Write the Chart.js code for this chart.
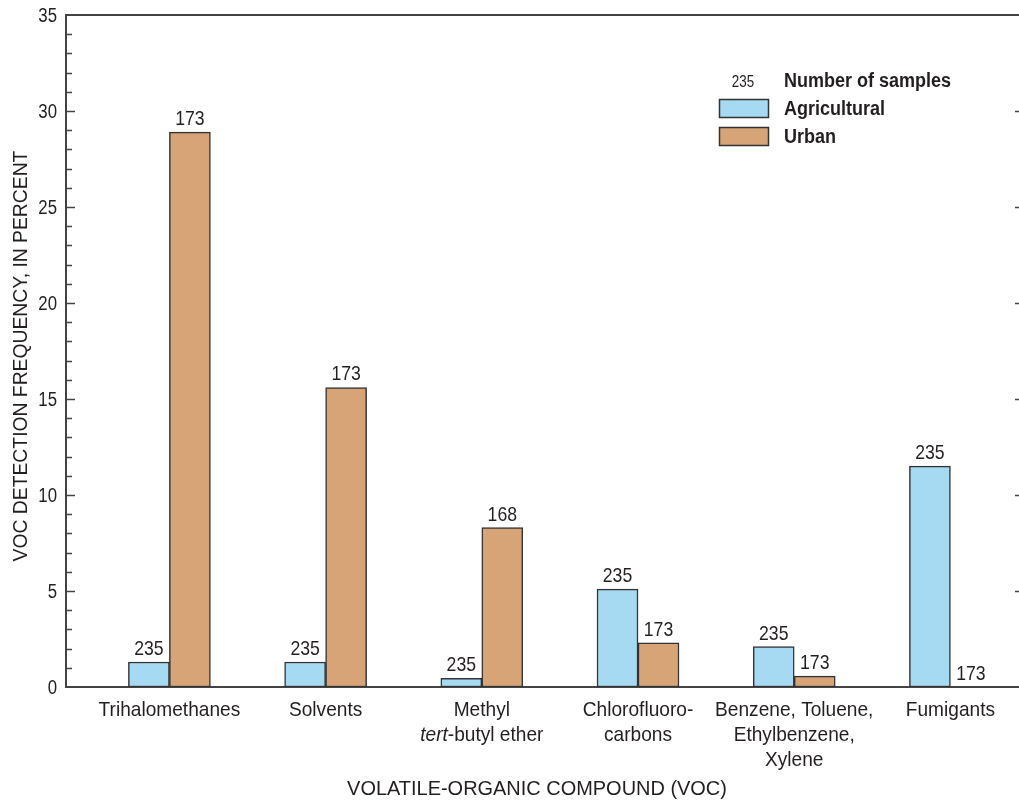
<!DOCTYPE html>
<html>
<head>
<meta charset="utf-8">
<script src="https://cdn.jsdelivr.net/npm/chart.js@4.4.1/dist/chart.umd.min.js"></script>
<style>
  html, body { margin: 0; padding: 0; background: #fff; overflow: hidden; }
  #wrap { position: relative; width: 1030px; height: 807px; }
</style>
</head>
<body>
<div id="wrap"><canvas id="c" width="1030" height="807"></canvas></div>
<script>
// Compound groups; words wrapped in underscores are set in italics
const categories = [
  ["Trihalomethanes"],
  ["Solvents"],
  ["Methyl", "_tert_-butyl ether"],
  ["Chlorofluoro-", "carbons"],
  ["Benzene, Toluene,", "Ethylbenzene,", "Xylene"],
  ["Fumigants"]
];

// Detection frequency, in percent
const agricultural = [1.3, 1.3, 0.45, 5.1, 2.1, 11.5];
const urban = [28.9, 15.6, 8.3, 2.3, 0.57, 0];

// Number of samples behind each bar
const agriculturalSamples = [235, 235, 235, 235, 235, 235];
const urbanSamples = [173, 173, 168, 173, 173, 173];

const seriesNames = ["Agricultural", "Urban"];
const sampleKeyCount = 235;
const sampleKeyText = "Number of samples";

const yTicks = [0, 5, 10, 15, 20, 25, 30, 35];
const yTitle = "VOC DETECTION FREQUENCY, IN PERCENT";
const xTitle = "VOLATILE-ORGANIC COMPOUND (VOC)";

const FONT = '"Liberation Sans", Arial, sans-serif';
const INK = '#231f20';
const AXIS = '#444444';
const BLUE = '#a6d9f2';
const TAN = '#d6a476';
const EDGE = '#333333';

// condensed lettering: the face is squeezed horizontally by sx
function fontSpec(size, bold, italic) {
  return (italic ? 'italic ' : '') + (bold ? 'bold ' : '') + size + 'px ' + FONT;
}
function textWidth(ctx, str, size, sx, bold, italic) {
  ctx.font = fontSpec(size, bold, italic);
  return ctx.measureText(str).width * sx;
}
function drawText(ctx, str, x, y, size, sx, align, bold, italic) {
  const w = textWidth(ctx, str, size, sx, bold, italic);
  const left = align === 'center' ? x - w / 2 : align === 'right' ? x - w : x;
  ctx.save();
  ctx.translate(left, y);
  ctx.scale(sx, 1);
  ctx.font = fontSpec(size, bold, italic);
  ctx.textAlign = 'left';
  ctx.fillText(str, 0, 0);
  ctx.restore();
}
function drawSegments(ctx, line, cx, y, size, sx) {
  // split "_italic_" runs out of a label line and center the whole line on cx
  const parts = line.split('_').map((t, k) => ({ t, italic: k % 2 === 1 })).filter(p => p.t);
  const widths = parts.map(p => textWidth(ctx, p.t, size, sx, false, p.italic));
  let x = cx - widths.reduce((a, b) => a + b, 0) / 2;
  parts.forEach((p, k) => {
    drawText(ctx, p.t, x, y, size, sx, 'left', false, p.italic);
    x += widths[k];
  });
}

const WORD_SX = 0.91;
const DIGIT_SX = 0.84;

const decorations = {
  id: 'decorations',
  afterDraw(chart) {
    const { ctx, chartArea: a, scales } = chart;
    const y = scales.y, x = scales.x;
    ctx.save();

    // frame along the top and right of the plot
    ctx.strokeStyle = AXIS;
    ctx.lineWidth = 2;
    ctx.beginPath();
    ctx.moveTo(a.left, a.top);
    ctx.lineTo(a.right, a.top);
    ctx.lineTo(a.right, a.bottom);
    ctx.stroke();

    // inward tick marks: every unit on the left, every 5 on the right
    ctx.lineWidth = 1.5;
    ctx.beginPath();
    for (let v = y.min + 1; v < y.max; v++) {
      const py = Math.round(y.getPixelForValue(v)) + 0.5;
      const major = v % 5 === 0;
      ctx.moveTo(a.left, py);
      ctx.lineTo(a.left + (major ? 9 : 6), py);
      if (major) {
        ctx.moveTo(a.right, py);
        ctx.lineTo(a.right - 9, py);
      }
    }
    ctx.stroke();

    ctx.fillStyle = INK;
    ctx.textBaseline = 'alphabetic';

    // value labels of the y axis
    y.ticks.forEach(t => {
      drawText(ctx, String(t.value), a.left - 9, y.getPixelForValue(t.value) + 7, 20, DIGIT_SX, 'right');
    });

    // sample counts above each bar
    chart.data.datasets.forEach((ds, di) => {
      chart.getDatasetMeta(di).data.forEach((bar, i) => {
        drawText(ctx, String(ds.samples[i]), bar.x, bar.y - 7, 21, DIGIT_SX, 'center');
      });
    });

    // category labels under the axis
    categories.forEach((lines, i) => {
      const cx = x.getPixelForValue(i);
      lines.forEach((line, k) => drawSegments(ctx, line, cx, a.bottom + 29 + k * 25, 21, WORD_SX));
    });

    // axis titles
    drawText(ctx, xTitle, (a.left + a.right) / 2 - 8, 795, 21, 0.95, 'center');
    ctx.save();
    ctx.translate(27, (a.top + a.bottom) / 2 + 5);
    ctx.rotate(-Math.PI / 2);
    drawText(ctx, yTitle, 0, 0, 21, 0.92, 'center');
    ctx.restore();

    // key
    drawText(ctx, String(sampleKeyCount), 743, 87, 16, DIGIT_SX, 'center');
    drawText(ctx, sampleKeyText, 784, 87, 20, 0.9, 'left', true);
    const swatches = [BLUE, TAN];
    seriesNames.forEach((name, k) => {
      const top = 99 + k * 28;
      ctx.fillStyle = swatches[k];
      ctx.fillRect(719, top, 50, 18);
      ctx.strokeStyle = EDGE;
      ctx.lineWidth = 1.5;
      ctx.strokeRect(719.5, top + 0.5, 49, 18);
      ctx.fillStyle = INK;
      drawText(ctx, name, 784, top + 16, 20, 0.9, 'left', true);
    });

    ctx.restore();
  }
};

const ctx = document.getElementById('c').getContext('2d');
new Chart(ctx, {
  type: 'bar',
  data: {
    datasets: [
      {
        label: seriesNames[0],
        data: agricultural.map((v, i) => ({ x: i, y: v })),
        samples: agriculturalSamples,
        backgroundColor: BLUE,
        borderColor: EDGE,
        borderWidth: 1.5,
        borderSkipped: false,
        barThickness: 41
      },
      {
        label: seriesNames[1],
        data: urban.map((v, i) => ({ x: i, y: v })),
        samples: urbanSamples,
        backgroundColor: TAN,
        borderColor: EDGE,
        borderWidth: 1.5,
        borderSkipped: false,
        barThickness: 41
      }
    ]
  },
  options: {
    responsive: false,
    animation: false,
    devicePixelRatio: 1,
    layout: { padding: { top: 15, right: 6, left: 0, bottom: 0 } },
    plugins: { legend: { display: false }, tooltip: { enabled: false } },
    scales: {
      x: {
        type: 'linear',
        offset: false,
        min: -0.662,
        max: 5.471,
        ticks: { display: false },
        grid: { display: false, drawTicks: false },
        border: { display: true, color: AXIS, width: 2 },
        afterFit(s) { s.height = 120; s.paddingLeft = 0; s.paddingRight = 0; }
      },
      y: {
        min: 0,
        max: 35,
        afterBuildTicks(s) { s.ticks = yTicks.map(v => ({ value: v })); },
        ticks: { display: false },
        grid: { display: false, drawTicks: false },
        border: { display: true, color: AXIS, width: 2 },
        afterFit(s) { s.width = 66; s.paddingTop = 0; s.paddingBottom = 0; }
      }
    }
  },
  plugins: [decorations]
});
</script>
</body>
</html>
